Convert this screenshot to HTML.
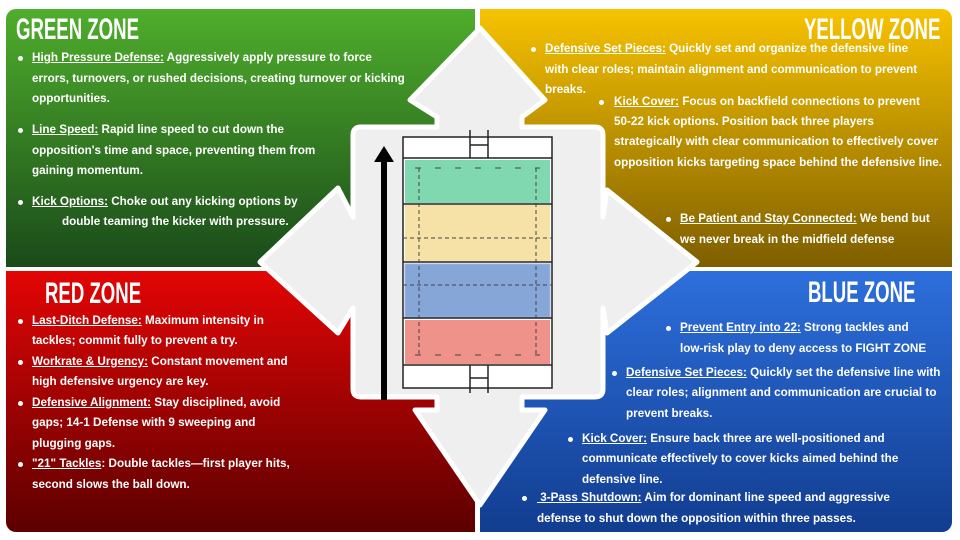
<!DOCTYPE html>
<html><head><meta charset="utf-8"><style>
body{margin:0;width:960px;height:540px;background:#fff;position:relative;overflow:hidden;font-family:"Liberation Sans",sans-serif}
.q{position:absolute}
.t{position:absolute;color:#fff;font-weight:bold;font-size:11.7px;white-space:nowrap;line-height:14px}
.t u{text-decoration:underline}
.h{position:absolute;color:#fff;font-weight:bold;font-size:30px;white-space:nowrap;font-family:"Liberation Sans Narrow","Liberation Sans",sans-serif;transform:scaleX(.62);transform-origin:left top}
.b{position:absolute;width:5px;height:5px;border-radius:50%;background:#fff}
</style></head><body>
<div class="q" style="left:6px;top:9px;width:469px;height:258px;border-radius:10px 0 0 0;background:linear-gradient(#4fae2c,#1a4a1a)"></div>
<div class="q" style="left:480px;top:9px;width:472px;height:258px;border-radius:0 10px 0 0;background:linear-gradient(#f7c200,#7e5e00)"></div>
<div class="q" style="left:6px;top:271px;width:469px;height:261px;border-radius:0 0 0 10px;background:linear-gradient(#e30505,#5c0000)"></div>
<div class="q" style="left:480px;top:271px;width:472px;height:261px;border-radius:0 0 10px 0;background:linear-gradient(#2d6fdc,#123d90)"></div>

<svg class="q" style="left:0;top:0" width="960" height="540">
<path d="M480,28 L545,100 L522,117 L522,127 L595,127 Q603,127 603,135 L603,217 L607,190 L697,262 L607,333 L603,308 L603,389 Q603,397 595,397 L522,397 L522,410 L545,410 L480,505 L415,410 L437,410 L437,397 L361,397 Q353,397 353,389 L353,308 L338,333 L260,262 L338,188 L353,217 L353,135 Q353,127 361,127 L437,127 L437,117 L410,100 Z" fill="#efefef" stroke="#fff" stroke-width="5" stroke-linejoin="round"/>
<rect x="403" y="137" width="149" height="251" fill="#fff" stroke="#222" stroke-width="1.5"/>
<rect x="405" y="160" width="145" height="43" fill="#7fd8b0"/>
<rect x="405" y="205" width="145" height="56" fill="#f6e2a6"/>
<rect x="405" y="264" width="145" height="53" fill="#86a6d8" stroke="#9fb6e0"/>
<rect x="405" y="320" width="145" height="44" fill="#ef9289"/>
<g stroke="#222" stroke-width="1.5">
<line x1="403" y1="158" x2="552" y2="158"/><line x1="403" y1="204" x2="552" y2="204"/>
<line x1="403" y1="262" x2="552" y2="262"/><line x1="403" y1="318" x2="552" y2="318"/>
<line x1="403" y1="365" x2="552" y2="365"/>
<line x1="470" y1="130" x2="470" y2="158"/><line x1="488" y1="130" x2="488" y2="158"/><line x1="470" y1="145" x2="488" y2="145"/>
<line x1="470" y1="365" x2="470" y2="393"/><line x1="488" y1="365" x2="488" y2="393"/><line x1="470" y1="378" x2="488" y2="378"/>
</g>
<g stroke="#444" stroke-width="1" stroke-dasharray="4,3" fill="none">
<line x1="403" y1="238" x2="552" y2="238"/><line x1="403" y1="285" x2="552" y2="285"/>
<line x1="419" y1="168" x2="419" y2="355"/><line x1="536" y1="168" x2="536" y2="355"/>
<line x1="415" y1="168" x2="540" y2="168" stroke-dasharray="6,14"/>
<line x1="415" y1="355" x2="540" y2="355" stroke-dasharray="6,14"/>
</g>
<line x1="384" y1="160" x2="384" y2="400" stroke="#000" stroke-width="6"/>
<polygon points="374,162 384,146 394,162" fill="#000"/>
</svg>

<div class="h" style="left:16px;top:13px">GREEN ZONE</div>
<div class="h" style="left:804px;top:13px">YELLOW ZONE</div>
<div class="h" style="left:45px;top:277px">RED ZONE</div>
<div class="h" style="left:808px;top:276px">BLUE ZONE</div>

<div class="b" style="left:18px;top:56px"></div>
<div class="t" style="left:32px;top:51px"><u>High Pressure Defense:</u> Aggressively apply pressure to force</div>
<div class="t" style="left:32px;top:72px">errors, turnovers, or rushed decisions, creating turnover or kicking</div>
<div class="t" style="left:32px;top:92px">opportunities.</div>
<div class="b" style="left:18px;top:128px"></div>
<div class="t" style="left:32px;top:123px"><u>Line Speed:</u> Rapid line speed to cut down the</div>
<div class="t" style="left:32px;top:144px">opposition's time and space, preventing them from</div>
<div class="t" style="left:32px;top:164px">gaining momentum.</div>
<div class="b" style="left:18px;top:200px"></div>
<div class="t" style="left:32px;top:195px"><u>Kick Options:</u> Choke out any kicking options by</div>
<div class="t" style="left:62px;top:215px">double teaming the kicker with pressure.</div>

<div class="b" style="left:531px;top:47px"></div>
<div class="t" style="left:545px;top:42px"><u>Defensive Set Pieces:</u> Quickly set and organize the defensive line</div>
<div class="t" style="left:545px;top:63px">with clear roles; maintain alignment and communication to prevent</div>
<div class="t" style="left:545px;top:83px">breaks.</div>
<div class="b" style="left:599px;top:100px"></div>
<div class="t" style="left:614px;top:95px"><u>Kick Cover:</u> Focus on backfield connections to prevent</div>
<div class="t" style="left:614px;top:115px">50-22 kick options. Position back three players</div>
<div class="t" style="left:614px;top:135px">strategically with clear communication to effectively cover</div>
<div class="t" style="left:614px;top:156px">opposition kicks targeting space behind the defensive line.</div>
<div class="b" style="left:666px;top:217px"></div>
<div class="t" style="left:680px;top:212px"><u>Be Patient and Stay Connected:</u> We bend but</div>
<div class="t" style="left:680px;top:233px">we never break in the midfield defense</div>

<div class="b" style="left:18px;top:319px"></div>
<div class="t" style="left:32px;top:314px"><u>Last-Ditch Defense:</u> Maximum intensity in</div>
<div class="t" style="left:32px;top:334px">tackles; commit fully to prevent a try.</div>
<div class="b" style="left:18px;top:360px"></div>
<div class="t" style="left:32px;top:355px"><u>Workrate &amp; Urgency:</u> Constant movement and</div>
<div class="t" style="left:32px;top:375px">high defensive urgency are key.</div>
<div class="b" style="left:18px;top:401px"></div>
<div class="t" style="left:32px;top:396px"><u>Defensive Alignment:</u> Stay disciplined, avoid</div>
<div class="t" style="left:32px;top:416px">gaps; 14-1 Defense with 9 sweeping and</div>
<div class="t" style="left:32px;top:437px">plugging gaps.</div>
<div class="b" style="left:18px;top:462px"></div>
<div class="t" style="left:32px;top:457px"><u>"21" Tackles</u>: Double tackles—first player hits,</div>
<div class="t" style="left:32px;top:478px">second slows the ball down.</div>

<div class="b" style="left:666px;top:326px"></div>
<div class="t" style="left:680px;top:321px"><u>Prevent Entry into 22:</u> Strong tackles and</div>
<div class="t" style="left:680px;top:342px">low-risk play to deny access to FIGHT ZONE</div>
<div class="b" style="left:612px;top:371px"></div>
<div class="t" style="left:626px;top:366px"><u>Defensive Set Pieces:</u> Quickly set the defensive line with</div>
<div class="t" style="left:626px;top:386px">clear roles; alignment and communication are crucial to</div>
<div class="t" style="left:626px;top:407px">prevent breaks.</div>
<div class="b" style="left:568px;top:437px"></div>
<div class="t" style="left:582px;top:432px"><u>Kick Cover:</u> Ensure back three are well-positioned and</div>
<div class="t" style="left:582px;top:452px">communicate effectively to cover kicks aimed behind the</div>
<div class="t" style="left:582px;top:473px">defensive line.</div>
<div class="b" style="left:522px;top:496px"></div>
<div class="t" style="left:537px;top:491px"><u>&nbsp;3-Pass Shutdown:</u> Aim for dominant line speed and aggressive</div>
<div class="t" style="left:537px;top:512px">defense to shut down the opposition within three passes.</div>
</body></html>
